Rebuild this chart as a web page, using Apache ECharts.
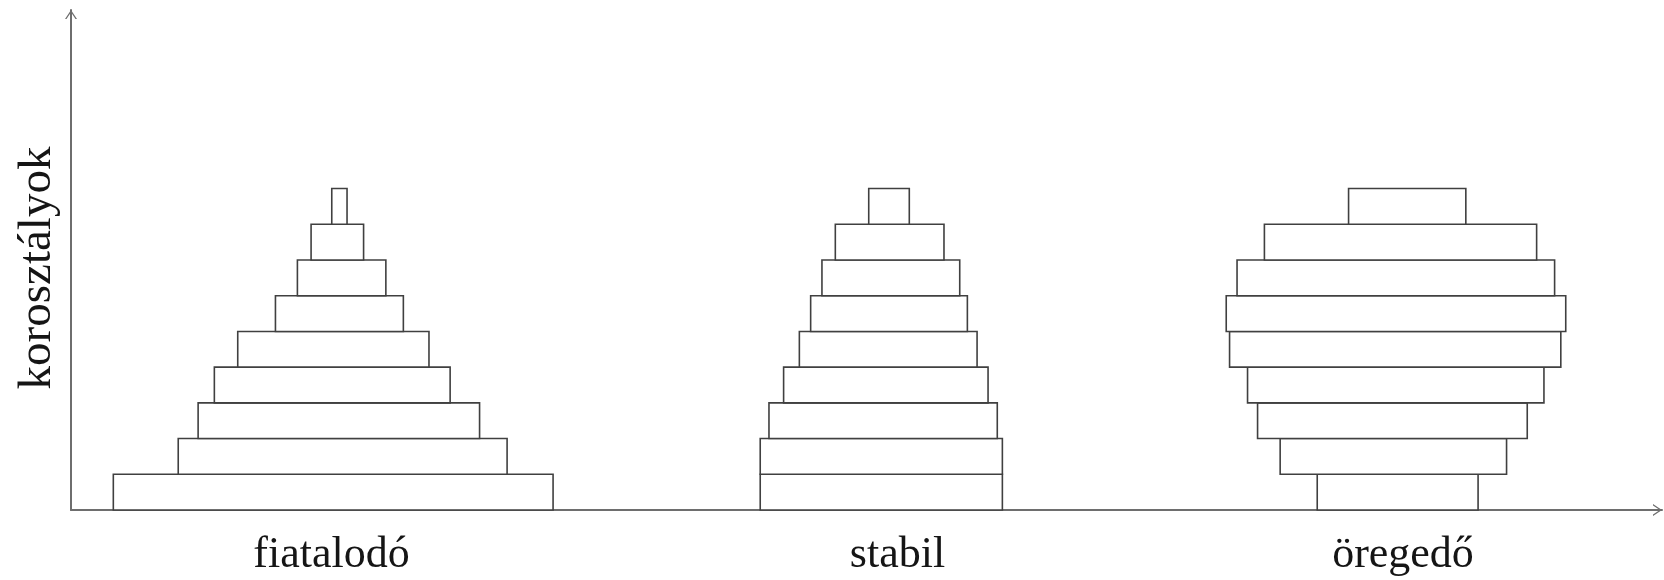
<!DOCTYPE html>
<html>
<head>
<meta charset="utf-8">
<script src="https://cdn.jsdelivr.net/npm/echarts@6/dist/echarts.min.js"></script>
<style>
  html, body { margin: 0; padding: 0; background: #fff; }
  #chart { width: 1664px; height: 580px; }
</style>
</head>
<body>
<div id="chart"></div>
<script>
// Group names (x-axis labels)
const groups = ['fiatalodó', 'stabil', 'öregedő'];
// Position of each group label along the x axis (axis units 0..1000)
const groupLabelAt = [163.7, 519.5, 837.2];
// Axis title
const yTitle = 'korosztályok';

// Age classes, bottom (youngest) to top (oldest)
const ageClasses = [1, 2, 3, 4, 5, 6, 7, 8, 9];

// Bar extents along the x axis for each age class (left edge, right edge), axis units 0..1000
const fiatalodoLeft  = [26.6, 67.4, 79.9, 90.1, 104.8, 128.5, 142.3, 150.9, 163.9];
const fiatalodoRight = [303.0, 274.1, 256.8, 238.3, 225.0, 208.9, 197.9, 183.9, 173.5];

const stabilLeft  = [433.2, 433.2, 438.7, 447.9, 457.8, 464.9, 472.0, 480.4, 501.4];
const stabilRight = [585.4, 585.4, 582.2, 576.4, 569.5, 563.4, 558.6, 548.7, 526.9];

const oregedoLeft  = [783.3, 760.0, 745.8, 739.5, 728.2, 726.1, 732.9, 750.1, 803.0];
const oregedoRight = [884.4, 902.3, 915.3, 925.8, 936.4, 939.5, 932.5, 921.2, 876.7];

function rows(left, right) {
  return ageClasses.map((a, i) => [i, left[i], right[i]]);
}

const chevron = 'path://M0,9 L6,0 L12,9 L10.5,9 L6,2.2 L1.5,9 Z';

function renderBar(params, api) {
  const row = api.value(0);
  const l = api.value(1);
  const r = api.value(2);
  const p0 = api.coord([l, row + 1]);
  const p1 = api.coord([r, row]);
  return {
    type: 'rect',
    shape: { x: p0[0], y: p0[1], width: p1[0] - p0[0], height: p1[1] - p0[1] },
    style: { fill: '#ffffff', stroke: '#404040', lineWidth: 1.6 }
  };
}

function barSeries(name, left, right) {
  return {
    type: 'custom',
    name: name,
    renderItem: renderBar,
    data: rows(left, right),
    encode: { x: [1, 2], y: 0 },
    z: 3,
    silent: true
  };
}

const chart = echarts.init(document.getElementById('chart'), null, { renderer: 'canvas' });
chart.setOption({
  backgroundColor: '#ffffff',
  animation: false,
  grid: { left: 71, right: 2, top: 10, bottom: 70, containLabel: false, outerBoundsMode: 'none' },
  xAxis: {
    type: 'value',
    min: 0,
    max: 1000,
    splitLine: { show: false },
    axisTick: { show: false },
    axisLine: {
      show: true,
      lineStyle: { color: '#6e6e6e', width: 2 },
      symbol: ['none', chevron],
      symbolSize: [13, 9],
      symbolOffset: [0, -4.5]
    },
    axisLabel: {
      customValues: groupLabelAt,
      formatter: function (v) {
        let best = 0;
        for (let i = 1; i < groupLabelAt.length; i++) {
          if (Math.abs(groupLabelAt[i] - v) < Math.abs(groupLabelAt[best] - v)) best = i;
        }
        return groups[best];
      },
      margin: 23,
      fontFamily: 'Liberation Serif',
      fontSize: 44,
      color: '#151515',
      showMinLabel: true,
      showMaxLabel: true
    }
  },
  yAxis: {
    type: 'value',
    min: 0,
    max: 14,
    name: yTitle,
    nameLocation: 'middle',
    nameRotate: 90,
    nameGap: 10,
    nameTextStyle: {
      fontFamily: 'Liberation Serif',
      fontSize: 47,
      color: '#151515',
      padding: [0, 16, 0, 0]
    },
    splitLine: { show: false },
    axisTick: { show: false },
    axisLabel: { show: false },
    axisLine: {
      show: true,
      lineStyle: { color: '#6e6e6e', width: 2 },
      symbol: ['none', chevron],
      symbolSize: [13, 9],
      symbolOffset: [0, -4.5]
    }
  },
  series: [
    barSeries(groups[0], fiatalodoLeft, fiatalodoRight),
    barSeries(groups[1], stabilLeft, stabilRight),
    barSeries(groups[2], oregedoLeft, oregedoRight)
  ]
});
</script>
</body>
</html>
